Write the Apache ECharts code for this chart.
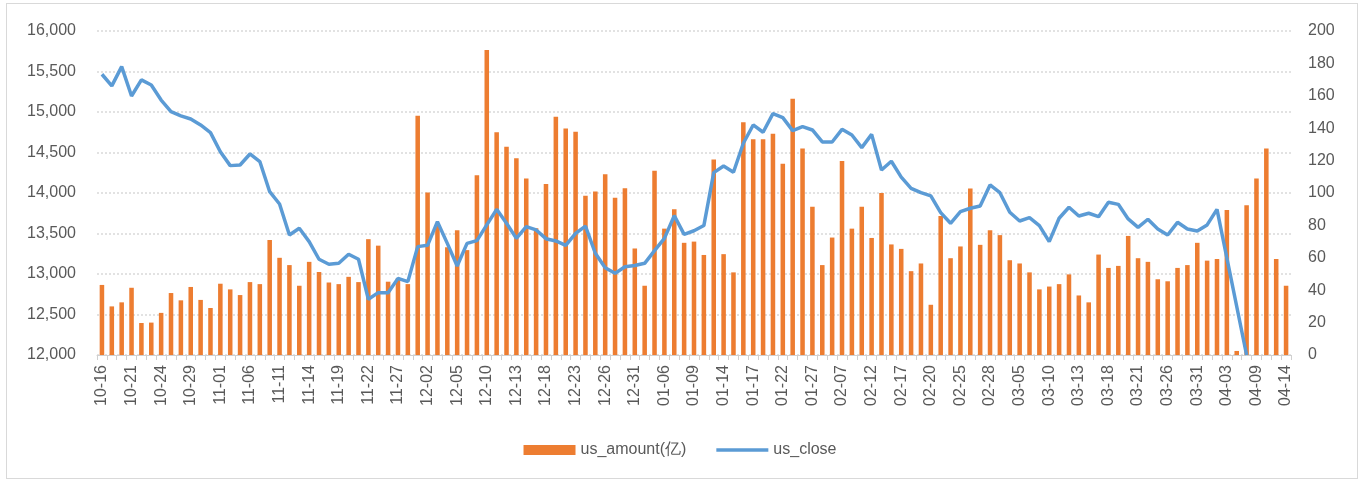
<!DOCTYPE html>
<html>
<head>
<meta charset="utf-8">
<title>us_amount / us_close</title>
<script src="https://cdn.jsdelivr.net/npm/echarts@6/dist/echarts.min.js"></script>
<style>
  html, body { margin: 0; padding: 0; background: #fff; }
  #wrap { position: relative; width: 1360px; height: 481px; }
  #main { width: 1360px; height: 481px; }
  #frame { position: absolute; left: 6px; top: 3px; width: 1350px; height: 474px; border: 1px solid #d9d9d9; pointer-events: none; }
</style>
</head>
<body>
<div id="wrap">
  <div id="main"></div>
  <div id="frame"></div>
</div>
<script>
// 交易日 (2024-10-16 ~ 2025-04-14)
var dates = [
  '10-16','10-17','10-18','10-21','10-22','10-23','10-24','10-25','10-28','10-29','10-30','10-31',
  '11-01','11-04','11-05','11-06','11-07','11-08','11-11','11-12','11-13','11-14','11-15','11-18','11-19','11-20','11-21','11-22','11-25','11-26','11-27','11-28','11-29',
  '12-02','12-03','12-04','12-05','12-06','12-09','12-10','12-11','12-12','12-13','12-16','12-17','12-18','12-19','12-20','12-23','12-24','12-25','12-26','12-27','12-30','12-31',
  '01-02','01-03','01-06','01-07','01-08','01-09','01-10','01-13','01-14','01-15','01-16','01-17','01-20','01-21','01-22','01-23','01-24','01-27',
  '02-05','02-06','02-07','02-10','02-11','02-12','02-13','02-14','02-17','02-18','02-19','02-20','02-21','02-24','02-25','02-26','02-27','02-28',
  '03-03','03-04','03-05','03-06','03-07','03-10','03-11','03-12','03-13','03-14','03-17','03-18','03-19','03-20','03-21','03-24','03-25','03-26','03-27','03-28','03-31',
  '04-01','04-02','04-03','04-07','04-08','04-09','04-10','04-11','04-14'
];

// 成交额(亿) - 左轴
var usAmount = [
  12865, 12600, 12650, 12830, 12395, 12400, 12520, 12765, 12675, 12840, 12680, 12580,
  12880, 12810, 12740, 12900, 12875, 13420, 13200, 13110, 12855, 13150, 13025, 12895, 12875, 12965, 12900, 13430, 13350, 12905, 12945, 12875, 14955,
  14005, 13600, 13330, 13540, 13295, 14220, 15765, 14750, 14570, 14430, 14180, 13565, 14110, 14940, 14795, 14755, 13965, 14020, 14230, 13940, 14060, 13315,
  12855, 14275, 13560, 13800, 13385, 13400, 13235, 14415, 13245, 13020, 14875, 14665, 14665, 14730, 14360, 15165, 14550, 13830,
  13110, 13450, 14395, 13560, 13830, 13445, 14000, 13365, 13310, 13035, 13130, 12620, 13715, 13195, 13340, 14055, 13360, 13540,
  13480, 13170, 13130, 13020, 12810, 12845, 12875, 12995, 12735, 12650, 13240, 13075, 13100, 13470, 13195, 13150, 12935, 12910, 13075, 13110, 13385,
  13165, 13185, 13790, 12050, 13850, 14180, 14550, 13185, 12855
];

// 收盘 - 右轴 (04-03 之后缺数据)
var usClose = [
  173.3, 166.1, 178.0, 159.9, 169.8, 166.7, 157.4, 150.2, 147.6, 145.7, 142.0, 137.3,
  125.5, 116.9, 117.3, 124.1, 119.4, 100.8, 93.2, 74.1, 78.2, 70.0, 59.1, 56.0, 56.6, 62.2, 59.1, 34.4, 38.5, 38.5, 47.3, 45.3, 66.9,
  67.7, 82.3, 68.9, 54.9, 68.9, 70.6, 80.3, 89.9, 81.3, 72.0, 79.2, 77.2, 71.8, 70.4, 67.7, 75.1, 79.6, 62.8, 53.9, 50.4, 54.5, 55.2,
  56.6, 64.4, 72.0, 86.0, 74.5, 76.7, 79.9, 112.6, 116.7, 112.8, 130.7, 142.0, 137.5, 149.0, 146.5, 138.5, 141.0, 138.9,
  131.5, 131.5, 139.3, 135.8, 128.0, 136.2, 114.2, 119.6, 109.8, 102.9, 100.2, 98.2, 87.9, 81.3, 88.5, 90.6, 92.0, 105.0,
  100.2, 88.1, 82.7, 84.8, 79.9, 70.0, 84.4, 91.2, 85.8, 87.5, 85.4, 94.3, 93.0, 84.0, 78.8, 83.8, 77.8, 74.1, 81.9, 77.8, 76.6,
  80.3, 89.9, null, null, 0, null, null, null, null
];

var leftTicks = { min: 12000, max: 16000, step: 500 };
var rightTicks = { min: 0, max: 200, step: 20 };

var textColor = '#595959';
var fontFam = '"Liberation Sans", Arial, sans-serif';

var myChart = echarts.init(document.getElementById('main'));
var option = {
  animation: false,
  textStyle: { fontFamily: fontFam },
  grid: { left: 97, right: 69, top: 31, bottom: 126 },
  legend: {
    top: 437,
    left: 'center',
    itemWidth: 52,
    itemHeight: 10,
    itemGap: 30,
    textStyle: { color: textColor, fontSize: 16, fontFamily: fontFam },
    data: [
      { name: 'us_amount(亿)', icon: 'rect' },
      { name: 'us_close', icon: 'path://M0,0H52V3.5H0Z' }
    ]
  },
  xAxis: {
    type: 'category',
    data: dates,
    axisLine: { lineStyle: { color: '#d0d0d0', width: 1 } },
    axisTick: { show: true, interval: 0, length: 5, lineStyle: { color: '#d0d0d0' } },
    axisLabel: { interval: 2, rotate: 90, margin: 10, color: textColor, fontSize: 16, fontFamily: fontFam }
  },
  yAxis: [
    {
      type: 'value',
      min: leftTicks.min, max: leftTicks.max, interval: leftTicks.step,
      axisLine: { show: false },
      axisTick: { show: false },
      axisLabel: {
        margin: 21, color: textColor, fontSize: 16, fontFamily: fontFam,
        formatter: function (v) { return v.toLocaleString('en-US'); }
      },
      splitLine: { lineStyle: { color: '#d9d9d9', width: 1.5, type: [2, 2] } }
    },
    {
      type: 'value',
      min: rightTicks.min, max: rightTicks.max, interval: rightTicks.step,
      axisLine: { show: false },
      axisTick: { show: false },
      axisLabel: { margin: 17, color: textColor, fontSize: 16, fontFamily: fontFam },
      splitLine: { show: false }
    }
  ],
  series: [
    {
      name: 'us_amount(亿)',
      type: 'bar',
      yAxisIndex: 0,
      data: usAmount,
      barWidth: '46%',
      itemStyle: { color: '#ED7D31' }
    },
    {
      name: 'us_close',
      type: 'line',
      yAxisIndex: 1,
      data: usClose,
      connectNulls: true,
      symbol: 'none',
      showSymbol: false,
      lineStyle: { color: '#5B9BD5', width: 3.5 },
      itemStyle: { color: '#5B9BD5' }
    }
  ]
};
myChart.setOption(option, true);
</script>
</body>
</html>
